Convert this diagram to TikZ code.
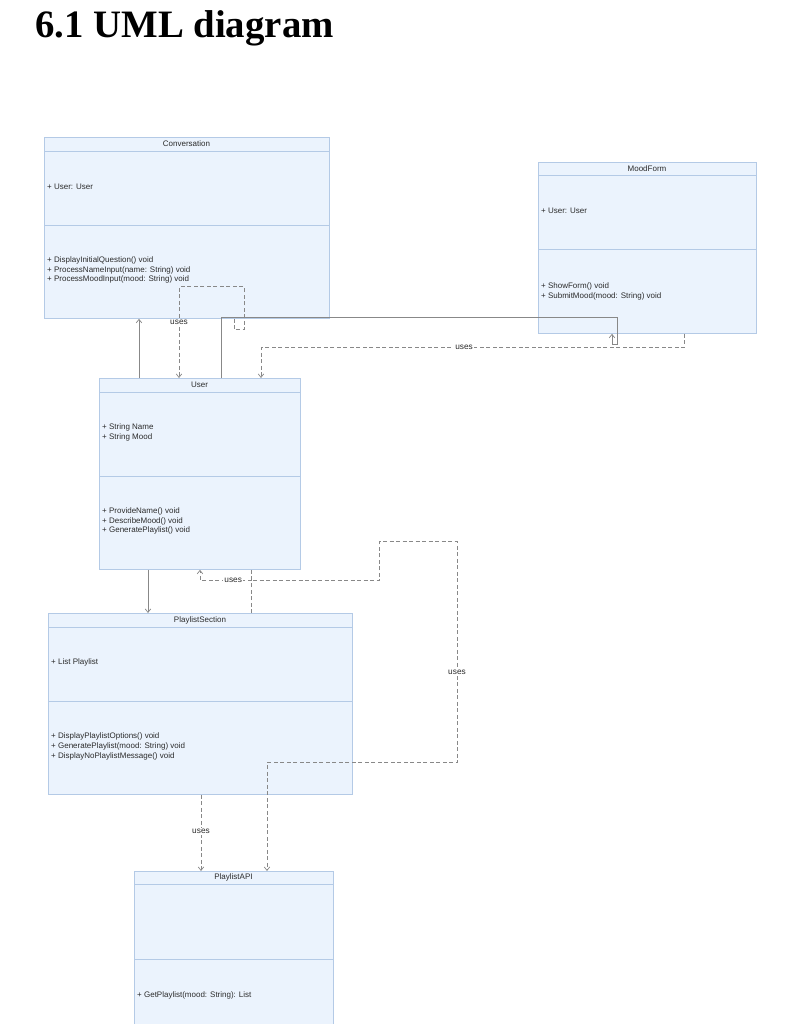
\documentclass[tikz,border=0pt]{standalone}
\usepackage{fontspec}
\setmainfont{Liberation Serif}
\newfontfamily\umlfont{Liberation Sans}
\usetikzlibrary{arrows.meta, calc}

\definecolor{boxfill}{HTML}{EBF3FD}
\definecolor{boxline}{HTML}{B4CAE6}
\definecolor{wire}{HTML}{888888}
\definecolor{umltext}{HTML}{2B2B2B}

\begin{document}
\begin{tikzpicture}[x=1pt, y=-1pt,
    classbox/.style={rectangle, draw=boxline, fill=boxfill, line width=0.8pt, anchor=north west, inner sep=0pt},
    classline/.style={draw=boxline, line width=0.8pt},
    member/.style={anchor=west, inner sep=0pt, align=left, text=umltext, font=\umlfont\fontsize{8}{9.7}\selectfont},
    classname/.style={inner sep=0pt, text=umltext, font=\umlfont\fontsize{8}{9.7}\selectfont},
    useslabel/.style={fill=white, inner sep=1.5pt, text=umltext, font=\umlfont\fontsize{8.3}{9.7}\selectfont},
    >={Straight Barb[length=3.5pt, width=5.5pt]},
    assoc/.style={draw=wire, line width=0.7pt, ->},
    depend/.style={draw=wire, line width=0.7pt, dash pattern=on 4pt off 2.5pt, ->}]
\useasboundingbox (0,0) rectangle (791,1024);

\node (title) at (35,38) [anchor=base west, inner sep=0pt, font=\bfseries\fontsize{38.8}{40}\selectfont] {6.1 UML diagram};

% classes
\node (conv) at (44,137) [classbox, minimum width=285pt, minimum height=181pt] {};
\node (mood) at (538,162) [classbox, minimum width=218pt, minimum height=171pt] {};
\node (user) at (99,378) [classbox, minimum width=201pt, minimum height=191pt] {};
\node (sect) at (48,613) [classbox, minimum width=304pt, minimum height=181pt] {};
\node (api) at (134,871) [classbox, minimum width=199pt, minimum height=175pt] {};

\foreach \c/\h/\d in {conv/14/88, mood/13/87, user/14/98, sect/14/88, api/13/88} {
    \draw [classline] ($(\c.north west)+(0,\h)$) -- ($(\c.north east)+(0,\h)$);
    \draw [classline] ($(\c.north west)+(0,\d)$) -- ($(\c.north east)+(0,\d)$);
}

\node (convname) at (186.5,144) [classname] {Conversation};
\node (convattr) at (47,187) [member] {+ User: User};
\node (convops) at (47,270) [member] {+ DisplayInitialQuestion() void\\+ ProcessNameInput(name: String) void\\+ ProcessMoodInput(mood: String) void};

\node (moodname) at (647,168.5) [classname] {MoodForm};
\node (moodattr) at (541,211) [member] {+ User: User};
\node (moodops) at (541,291.5) [member] {+ ShowForm() void\\+ SubmitMood(mood: String) void};

\node (username) at (199.5,385) [classname] {User};
\node (userattr) at (102,432.5) [member] {+ String Name\\+ String Mood};
\node (userops) at (102,521) [member] {+ ProvideName() void\\+ DescribeMood() void\\+ GeneratePlaylist() void};

\node (sectname) at (200,620) [classname] {PlaylistSection};
\node (sectattr) at (51,662) [member] {+ List Playlist};
\node (sectops) at (51,746.5) [member] {+ DisplayPlaylistOptions() void\\+ GeneratePlaylist(mood: String) void\\+ DisplayNoPlaylistMessage() void};

\node (apiname) at (233.5,877.5) [classname] {PlaylistAPI};
\node (apiops) at (137,995) [member] {+ GetPlaylist(mood: String): List};

% connectors
\draw [assoc] ($(user.north west)+(40,0)$) -- ($(conv.south west)+(95,0)$);
\draw [depend] ($(conv.south west)+(190,0)$) -- ++(0,11) -- ++(10,0) -- ++(0,-43) -- ++(-65,0)
    -- node [useslabel, pos=0.39] {uses} ($(user.north west)+(80,0)$);
\draw [assoc] ($(user.north west)+(122,0)$) -- ++(0,-61) -- ++(396,0) -- ++(0,27) -- ++(-5,0)
    -- ($(mood.south west)+(74,0)$);
\draw [depend] ($(mood.south west)+(146,0)$) -- ++(0,14) -- node [useslabel, pos=0.52] {uses} ++(-423,0)
    -- ($(user.north west)+(162,0)$);
\draw [assoc] ($(user.south west)+(49,0)$) -- ($(sect.north west)+(100,0)$);
\draw [depend] ($(sect.north west)+(203,0)$) -- ++(0,-33) -- node [useslabel, pos=0.35] {uses} ++(-51,0)
    -- ($(user.south west)+(101,0)$);
\draw [depend] ($(user.south west)+(152,0)$) -- ++(0,11) -- ++(128,0) -- ++(0,-39) -- ++(78,0)
    -- node [useslabel, pos=0.59] {uses} ++(0,221) -- ++(-190,0) -- ($(api.north west)+(133,0)$);
\draw [depend] ($(sect.south west)+(153,0)$) -- node [useslabel, pos=0.48] {uses} ($(api.north west)+(67,0)$);
\end{tikzpicture}
\end{document}
